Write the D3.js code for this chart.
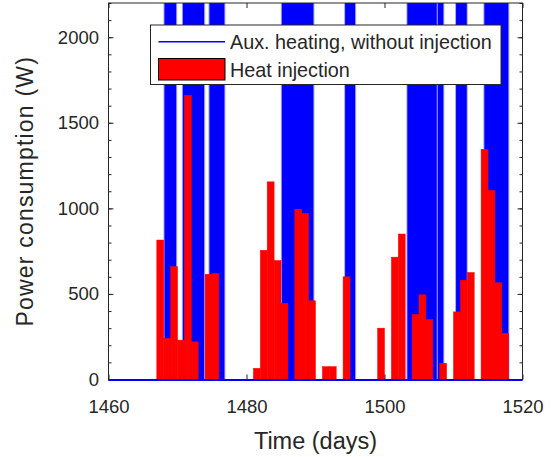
<!DOCTYPE html>
<html>
  <head>
    <meta charset="utf-8">
    <title>Power consumption</title>
    <script src="https://d3js.org/d3.v7.min.js"></script>
    <style>
      body { margin: 0; background: #fff; }
      text { font-family: "Liberation Sans", Arial, Helvetica, sans-serif; fill: #262626; }
    </style>
  </head>
  <body>
    <div class="chart"></div>
    <script>
      /*
       * data
       */
      // daily heat injection bars (W), each bar spans [day, day+1]
      var injDays = [1467, 1468, 1469, 1470, 1471, 1472, 1474, 1475,
                     1481, 1482, 1483, 1484, 1485, 1487, 1488, 1489, 1491, 1492, 1494,
                     1499, 1501, 1502, 1504, 1505, 1506, 1508,
                     1510, 1511, 1512, 1514, 1515, 1516, 1517];
      var injPower = [815, 240, 660, 230, 1660, 220, 615, 620,
                      65, 755, 1155, 695, 445, 995, 970, 460, 75, 75, 600,
                      300, 715, 850, 380, 495, 350, 95,
                      395, 580, 625, 1345, 1105, 565, 270];

      // periods where the aux heating line (no injection) is switching on/off
      var auxStart = [1468.11, 1470.78, 1474.63, 1485.12, 1494.29, 1503.31, 1507.72, 1510.37, 1514.47];
      var auxEnd   = [1469.81, 1473.86, 1476.80, 1489.70, 1495.74, 1507.57, 1508.53, 1511.92, 1517.95];
      var auxPeak = 2200;

      var xTicks = [1460, 1480, 1500, 1520];
      var yTicks = [0, 500, 1000, 1500, 2000];
      var yMinor = d3.range(0, 2201, 100);

      var legendLabels = ["Aux. heating, without injection", "Heat injection"];

      /*
       * chart
       */
      var width = 558, height = 457;
      // note: "top" is taken by window.top, so plot edges get their own names
      var plotL = 108.5, plotR = 522.5, plotT = 3, plotB = 379.5;

      var x = d3.scaleLinear().domain([1460, 1520]).range([plotL, plotR]);
      var y = d3.scaleLinear().domain([0, 2200]).range([plotB, plotT]);

      var svg = d3.select(".chart").append("svg")
        .attr("width", width)
        .attr("height", height);

      var bands = auxStart.map(function(s, i) { return { s: s, e: auxEnd[i] }; });

      // faint edges of the aux line bursts
      svg.append("g").selectAll("rect")
        .data(bands)
        .enter().append("rect")
          .attr("x", function(d) { return x(d.s) - 1; })
          .attr("y", y(auxPeak))
          .attr("width", function(d) { return x(d.e) - x(d.s) + 2; })
          .attr("height", y(0) - y(auxPeak))
          .attr("fill", "#a8a8ff");

      svg.append("g").selectAll("rect")
        .data(bands)
        .enter().append("rect")
          .attr("x", function(d) { return x(d.s); })
          .attr("y", y(auxPeak))
          .attr("width", function(d) { return x(d.e) - x(d.s); })
          .attr("height", y(0) - y(auxPeak))
          .attr("fill", "#0000ff");

      // heat injection bars
      var inj = injDays.map(function(d, i) { return { day: d, p: injPower[i] }; });

      svg.append("g").selectAll("rect")
        .data(inj)
        .enter().append("rect")
          .attr("x", function(d) { return x(d.day); })
          .attr("y", function(d) { return y(d.p); })
          .attr("width", function(d) { return x(d.day + 1) - x(d.day); })
          .attr("height", function(d) { return y(0) - y(d.p); })
          .attr("fill", "#ff0000")
          .attr("stroke", "#ff0000")
          .attr("stroke-width", 0.5);

      var line = d3.line()
        .x(function(d) { return x(d[0]); })
        .y(function(d) { return y(d[1]); });

      /*
       * axes, ticks pointing inward like matlab
       */
      function styleAxis(g) {
        g.select(".domain").remove();
        g.selectAll(".tick line").attr("stroke", "#262626");
        g.selectAll(".tick text")
          .style("font-family", '"Liberation Sans", Arial, sans-serif')
          .attr("fill", "#262626");
      }

      svg.append("g")
        .attr("transform", "translate(0," + plotB + ")")
        .call(d3.axisBottom(x).tickValues(xTicks).tickSizeInner(-5).tickSizeOuter(0).tickPadding(20).tickFormat(d3.format("d")))
        .call(styleAxis)
        .selectAll("text").style("font-size", "18.5px");

      svg.append("g")
        .attr("transform", "translate(0," + plotT + ")")
        .call(d3.axisTop(x).tickValues(xTicks).tickSizeInner(-5).tickSizeOuter(0).tickFormat(""))
        .call(styleAxis);

      svg.append("g")
        .attr("transform", "translate(" + plotL + ",0)")
        .call(d3.axisLeft(y).tickValues(yMinor).tickSizeInner(-3).tickSizeOuter(0).tickFormat(""))
        .call(styleAxis);

      svg.append("g")
        .attr("transform", "translate(" + plotR + ",0)")
        .call(d3.axisRight(y).tickValues(yMinor).tickSizeInner(-3).tickSizeOuter(0).tickFormat(""))
        .call(styleAxis);

      svg.append("g")
        .attr("transform", "translate(" + plotL + ",0)")
        .call(d3.axisLeft(y).tickValues(yTicks).tickSizeInner(-5).tickSizeOuter(0).tickPadding(9.5).tickFormat(d3.format("d")))
        .call(styleAxis)
        .selectAll("text").style("font-size", "18.5px");

      svg.append("g")
        .attr("transform", "translate(" + plotR + ",0)")
        .call(d3.axisRight(y).tickValues(yTicks).tickSizeInner(-5).tickSizeOuter(0).tickFormat(""))
        .call(styleAxis);

      svg.append("rect")
        .attr("x", plotL)
        .attr("y", plotT)
        .attr("width", plotR - plotL)
        .attr("height", plotB - plotT)
        .attr("fill", "none")
        .attr("stroke", "#262626")
        .attr("stroke-width", 1);

      // aux line sitting on zero between bursts, drawn over the bottom axis
      svg.append("path")
        .datum([[1460, 0], [1520, 0]])
        .attr("d", line)
        .attr("fill", "none")
        .attr("stroke", "#0000ff")
        .attr("stroke-width", 2)
        .attr("transform", "translate(0,0.5)");

      // axis labels
      svg.append("text")
        .attr("x", (plotL + plotR) / 2)
        .attr("y", 449)
        .attr("text-anchor", "middle")
        .style("font-size", "23.5px")
        .text("Time (days)");

      svg.append("text")
        .attr("transform", "translate(33," + (plotT + plotB) / 2 + ") rotate(-90)")
        .attr("text-anchor", "middle")
        .style("font-size", "23px")
        .style("letter-spacing", "1.2px")
        .text("Power consumption (W)");

      /*
       * legend
       */
      var legend = svg.append("g");

      legend.append("rect")
        .attr("x", 150.5)
        .attr("y", 25)
        .attr("width", 350.5)
        .attr("height", 59.5)
        .attr("fill", "#fff")
        .attr("stroke", "#262626");

      legend.append("line")
        .attr("x1", 158.5).attr("x2", 225)
        .attr("y1", 41.7).attr("y2", 41.7)
        .attr("stroke", "#0000ff")
        .attr("stroke-width", 1.5);

      legend.append("rect")
        .attr("x", 158.5).attr("y", 58.5)
        .attr("width", 66.5).attr("height", 21.5)
        .attr("fill", "#ff0000")
        .attr("stroke", "#000");

      legend.selectAll(".lbl")
        .data(legendLabels)
        .enter().append("text")
          .attr("class", "lbl")
          .attr("x", 230)
          .attr("y", function(d, i) { return 48.5 + i * 28.3; })
          .style("font-size", "19.8px")
          .text(function(d) { return d; });
    </script>
  </body>
</html>
